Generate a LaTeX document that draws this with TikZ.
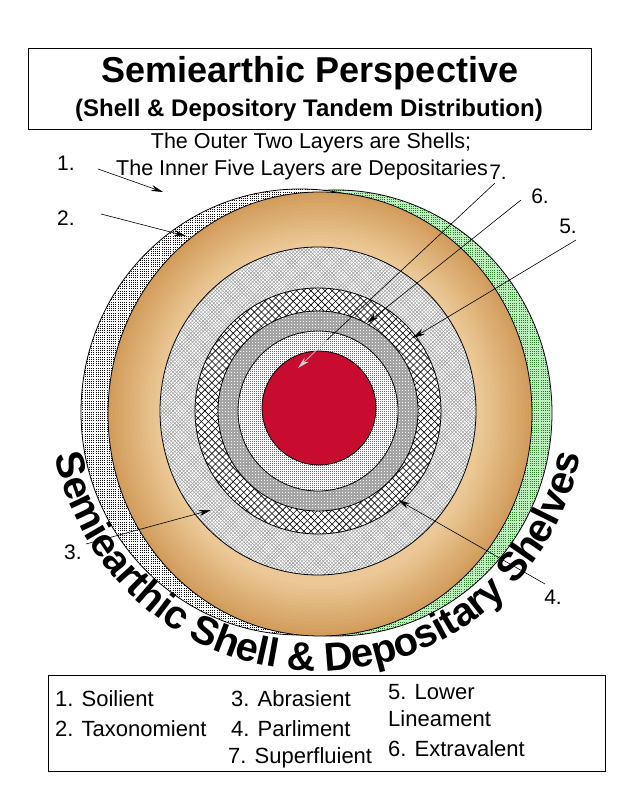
\documentclass[tikz,border=0pt]{standalone}
\usepackage{fontspec}
\setmainfont{Liberation Sans}
\usetikzlibrary{arrows.meta}
\definecolor{tanL}{RGB}{235,200,150}
\definecolor{tanD}{RGB}{210,157,92}
\definecolor{redc}{RGB}{200,12,48}
\definecolor{greenf}{RGB}{188,240,188}
\definecolor{greend}{RGB}{40,120,40}
\definecolor{midgray}{RGB}{165,165,165}
\begin{document}
\begin{tikzpicture}[x=1pt,y=1pt,
  ring/.style={draw=black,line width=0.8pt},
  arr/.style={draw=black,line width=0.6pt,-{Stealth[length=12pt,width=6pt]}},
  lab/.style={font=\fontsize{21}{24}\selectfont,inner sep=0pt},
  leg/.style={font=\fontsize{22}{26}\selectfont,anchor=west,inner sep=0pt},
  txtline/.style={font=\fontsize{21.5}{25}\selectfont,inner sep=0pt},
  curv/.style={font=\bfseries\fontsize{40}{44}\selectfont,inner sep=0pt,anchor=base},
  box/.style={draw=black,line width=1pt}]
\useasboundingbox (0,0) rectangle (619,800);
\fill[white] (0,0) rectangle (619,800);
% title box
\draw[box] (28,751) rectangle (591,670);
\node[font=\bfseries\fontsize{36}{40}\selectfont,inner sep=0pt] (title) at (310,727) {Semiearthic Perspective};
\node[font=\bfseries\fontsize{24}{28}\selectfont,inner sep=0pt] (sub) at (309,690) {(Shell \& Depository Tandem Distribution)};
\node[txtline] (lineA) at (311,657) {The Outer Two Layers are Shells;};
\node[txtline] (lineB) at (302,630) {The Inner Five Layers are Depositaries};
% outer shell 1 (green stipple)
\coordinate (cg) at (336,387);
\begin{scope}
  \clip (cg) ellipse [x radius=216,y radius=223];
  \fill[greenf] (cg) ellipse [x radius=216,y radius=223];
  \foreach \k in {-101,...,101}
    \draw[greend,line width=0.8pt,dash pattern=on 0.8pt off 1.4pt] ([shift={(-220,\k*2.2)}]cg) -- ++(440,0);
\end{scope}
\draw[ring] (cg) ellipse [x radius=216,y radius=223];
% outer shell 2 (gray stipple)
\coordinate (cs) at (300,388);
\begin{scope}
  \clip (cs) ellipse [x radius=219,y radius=223];
  \fill[white] (cs) ellipse [x radius=219,y radius=223];
  \foreach \k in {-101,...,101}
    \draw[black,line width=0.75pt,dash pattern=on 0.75pt off 1.45pt] ([shift={(-222,\k*2.2)}]cs) -- ++(444,0);
\end{scope}
\draw[ring] (cs) ellipse [x radius=219,y radius=223];
% tan depositary (stepped gradient, darker outside)
\coordinate (ct) at (320,386);
\foreach \j in {0,...,14} {
  \pgfmathsetmacro\f{\j/14*100}
  \fill[tanL!\f!tanD] (ct) ellipse [x radius=212-\j*3.6,y radius=222-\j*3.6];
}
\draw[ring] (ct) ellipse [x radius=212,y radius=222];
% weave ring
\coordinate (c0) at (318,389);
\fill[white] (c0) ellipse [x radius=158,y radius=164];
\begin{scope}
  \clip (c0) ellipse [x radius=158,y radius=164];
  \begin{scope}[shift={(c0)},rotate=45]
    \foreach \k in {-66,...,66} {
      \draw[gray!80,line width=0.45pt] (\k*2.5,-170) -- (\k*2.5,170);
      \draw[gray!80,line width=0.45pt] (-170,\k*2.5) -- (170,\k*2.5);
    }
  \end{scope}
\end{scope}
\draw[ring] (c0) ellipse [x radius=158,y radius=164];
% crosshatch ring
\fill[white] (c0) circle [radius=123];
\begin{scope}
  \clip (c0) circle [radius=123];
  \begin{scope}[shift={(c0)},rotate=45]
    \foreach \k in {-25,...,25} {
      \draw[black,line width=0.6pt] (\k*5,-130) -- (\k*5,130);
      \draw[black,line width=0.6pt] (-130,\k*5) -- (130,\k*5);
    }
  \end{scope}
\end{scope}
\draw[ring] (c0) circle [radius=123];
% gray ring with white dots
\begin{scope}
  \clip (c0) circle [radius=100];
  \fill[midgray] (c0) circle [radius=100];
  \foreach \k in {-34,...,34}
    \draw[white,line width=0.9pt,dash pattern=on 0.9pt off 2.1pt] ([shift={(-102,\k*3)}]c0) -- ++(204,0);
\end{scope}
\draw[ring] (c0) circle [radius=100];
% light stipple ring
\begin{scope}
  \clip (c0) circle [radius=80];
  \fill[white] (c0) circle [radius=80];
  \foreach \k in {-40,...,40}
    \draw[gray!80!black,line width=0.7pt,dash pattern=on 0.7pt off 1.3pt] ([shift={(-82,\k*2)}]c0) -- ++(164,0);
\end{scope}
\draw[ring] (c0) circle [radius=80];
% core
\draw[ring,fill=redc] (319,392) circle [radius=57];
% curved text
\coordinate (cc) at (318,397);
\xdef\cum{0}
\foreach \ch/\w [count=\i] in {S/667,e/556,m/889,i/278,e/556,a/556,r/389,t/333,h/611,i/278,c/556,{}/278,S/667,h/611,e/556,l/278,l/278,{}/278,\&/722,{}/278,D/722,e/556,p/611,o/611,s/556,i/278,t/333,a/556,r/389,y/556,{}/278,S/667,h/611,e/556,l/278,v/556,e/556,s/556} {
  \pgfmathsetmacro\ang{191.44+\cum+\w*0.00417}
  \node[curv,rotate=\ang+90] (k\i) at ([shift={(\ang:268)}]cc) {\ch};
  \pgfmathsetmacro\newcum{\cum+\w*0.00834}
  \xdef\cum{\newcum}
}
% labels
\node[lab] (n1) at (66,637) {1.};
\node[lab] (n2) at (66,582) {2.};
\node[lab] (n3) at (73,248) {3.};
\node[lab] (n4) at (553,203) {4.};
\node[lab] (n5) at (568,574) {5.};
\node[lab] (n6) at (540,604) {6.};
\node[lab] (n7) at (498,628) {7.};
% arrows
\coordinate (s1) at (98,631); \coordinate (t1) at (163,608);
\coordinate (s2) at (101,586); \coordinate (t2) at (186,564);
\coordinate (s3) at (86,256); \coordinate (t3) at (211,290);
\coordinate (s4) at (545,216); \coordinate (t4) at (398,300);
\coordinate (s5) at (576,560); \coordinate (t5) at (413,462);
\coordinate (s6) at (521,600); \coordinate (t6) at (367,477);
\coordinate (s7) at (495,617); \coordinate (m7) at (327,460); \coordinate (t7) at (298,432);
\draw[arr] (s1) -- (t1);
\draw[arr] (s2) -- (t2);
\draw[arr] (s3) -- (t3);
\draw[arr] (s4) -- (t4);
\draw[arr] (s5) -- (t5);
\draw[arr] (s6) -- (t6);
\draw[line width=0.6pt] (s7) -- (m7);
\draw[arr,draw=gray!35,fill=gray!35] (m7) -- (t7);
% legend
\draw[box] (48,124) rectangle (605,28);
\node[leg] (g1) at (55,101) {1. Soilient};
\node[leg] (g2) at (55,71) {2. Taxonomient};
\node[leg] (g3) at (231,101) {3. Abrasient};
\node[leg] (g4) at (231,71) {4. Parliment};
\node[leg] (g7) at (228,42) {7. Superfluient};
\node[leg] (g5) at (388,108) {5. Lower};
\node[leg] (g5b) at (388,81) {Lineament};
\node[leg] (g6) at (388,51) {6. Extravalent};
\end{tikzpicture}
\end{document}
